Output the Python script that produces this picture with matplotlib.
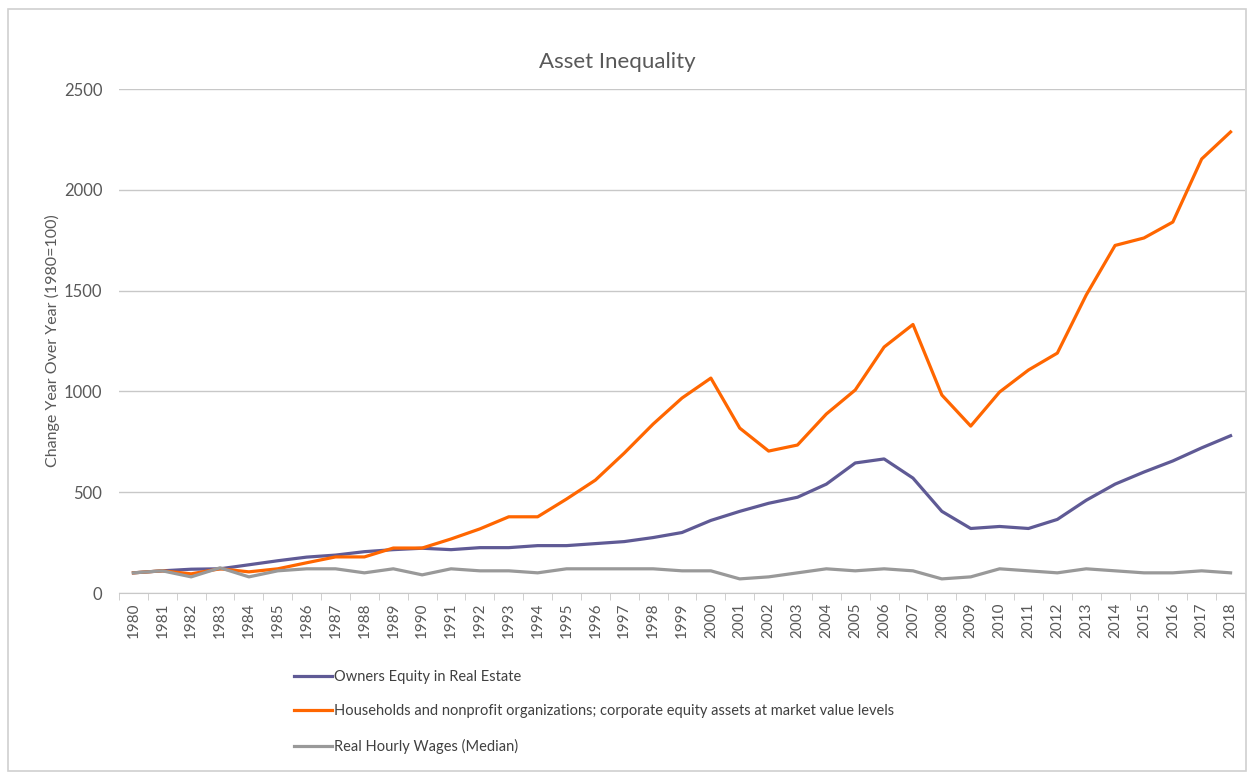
import matplotlib.pyplot as plt
from matplotlib.patches import Rectangle
import numpy as np

plt.rcParams['font.family'] = ['Lato', 'DejaVu Sans']

years = [str(y) for y in range(1980, 2019)]

owners_equity = [100, 110, 118, 120, 140, 160, 178, 188, 205, 215,
                 222, 215, 225, 225, 235, 235, 245, 255, 275, 300,
                 360, 405, 445, 475, 540, 645, 665, 570, 405, 320,
                 330, 320, 365, 460, 540, 600, 655, 720, 780]

households_equity = [100, 110, 95, 120, 105, 120, 150, 179, 179, 223,
                     223, 268, 318, 378, 378, 466, 560, 694, 838, 967,
                     1066, 818, 704, 734, 888, 1007, 1220, 1332, 982, 828,
                     997, 1106, 1190, 1478, 1724, 1761, 1840, 2153, 2287]

wages = [100, 110, 80, 125, 80, 110, 120, 120, 100, 120,
         90, 120, 110, 110, 100, 120, 120, 120, 120, 110,
         110, 70, 80, 100, 120, 110, 120, 110, 70, 80,
         120, 110, 100, 120, 110, 100, 100, 110, 100]

series_names = ["Owners Equity in Real Estate",
                "Households and nonprofit organizations; corporate equity assets at market value levels",
                "Real Hourly Wages (Median)"]
colors = ["#5F5A95", "#FF6600", "#999999"]

W, H = 1249, 774
fig = plt.figure(figsize=(W / 100, H / 100), dpi=100)

# okvir oko cijelog grafa
fig.patches.append(Rectangle((8 / W, 1 - 771 / H), (1246 - 8) / W, (771 - 9) / H,
                             transform=fig.transFigure, fill=False,
                             edgecolor="#D0D0D0", linewidth=1.2))

ax = fig.add_axes([119 / W, 1 - 593 / H, (1245 - 119) / W, (593 - 89) / H])

x = np.arange(len(years))
for vals, name, c in zip([owners_equity, households_equity, wages], series_names, colors):
    ax.plot(x, vals, color=c, linewidth=2.3, label=name, solid_joinstyle='round')

ax.set_xlim(-0.5, len(years) - 0.5)
ax.set_ylim(0, 2500)
ax.set_yticks([0, 500, 1000, 1500, 2000, 2500])
ax.yaxis.grid(True, color="#C8C8C8", linewidth=1.0)
ax.set_axisbelow(True)

ax.set_xticks(x)
ax.set_xticklabels(years, rotation=90)
ax.set_xticks(np.arange(len(years) + 1) - 0.5, minor=True)
ax.tick_params(axis='x', which='major', length=0, pad=7, labelsize=11, labelcolor="#595959")
ax.tick_params(axis='x', which='minor', length=5, color="#C8C8C8")
ax.tick_params(axis='y', length=0, pad=12, labelsize=12, labelcolor="#595959")

for s in ['top', 'right', 'left']:
    ax.spines[s].set_visible(False)
ax.spines['bottom'].set_color("#C8C8C8")

ax.set_ylabel("Change Year Over Year (1980=100)", fontsize=11.5, color="#595959", labelpad=3)
fig.text(617 / W, 1 - 62 / H, "Asset Inequality", ha='center', va='center',
         fontsize=16, color="#595959")

leg = fig.legend(loc='upper left', bbox_to_anchor=(294 / W, 1 - 670 / H), frameon=False,
                 fontsize=10.5, handlelength=2.6, handletextpad=0.15, labelspacing=1.4,
                 borderaxespad=0, borderpad=0)
for t in leg.get_texts():
    t.set_color("#404040")

plt.savefig("out.png", dpi=100)
